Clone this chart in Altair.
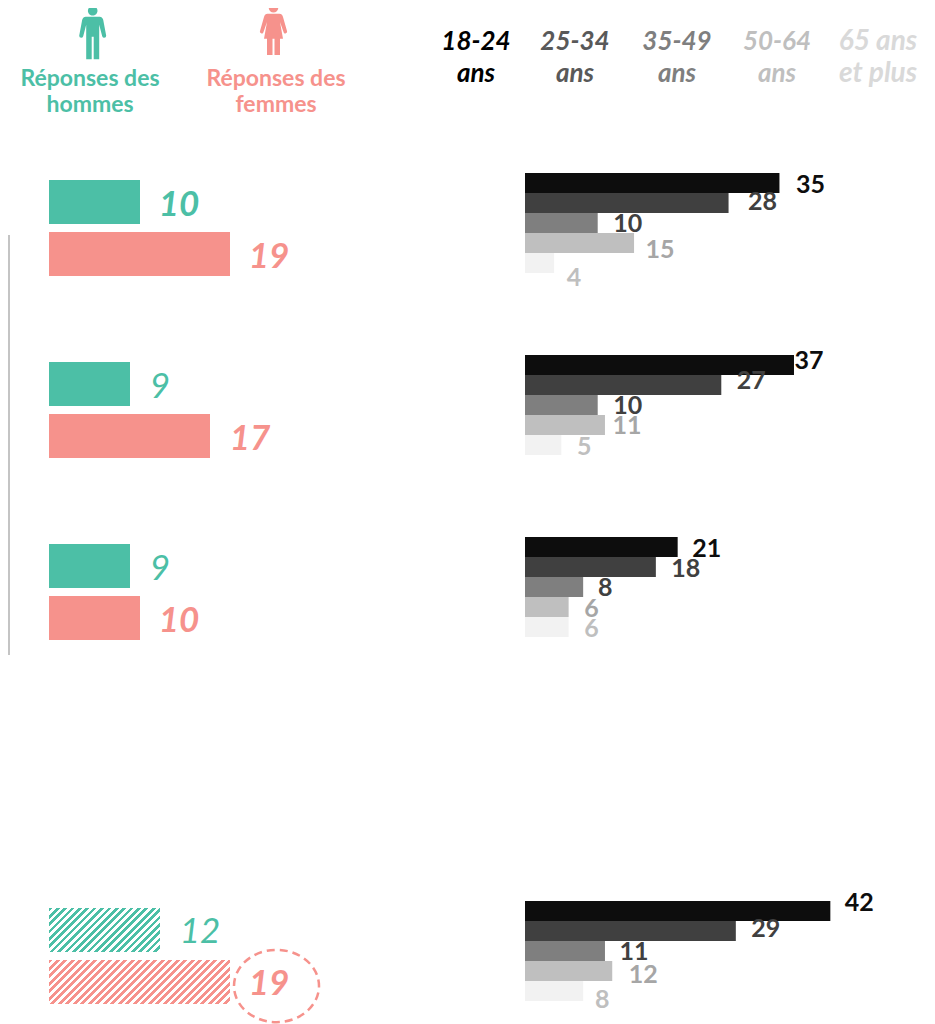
import altair as alt
import pandas as pd

# ---- values ----
slots_left = [0, 1, 2, 4]
men_labels = ["10", "9", "9", "12"]
women_labels = ["19", "17", "10", "19"]
men_len = [9.1, 8.1, 8.1, 11.1]
women_len = [18.1, 16.1, 9.1, 18.1]
men_bold = [True, False, False, False]
women_bold = [True, True, True, True]
age_names = ["18-24 ans", "25-34 ans", "35-49 ans", "50-64 ans", "65 ans et plus"]
age_1824 = [35, 37, 21, 42]
age_2534 = [28, 27, 18, 29]
age_3549 = [10, 10, 8, 11]
age_5064 = [15, 11, 6, 12]
age_65 = [4, 5, 6, 8]

TEAL = "#4cbfa6"
CORAL = "#f6928c"
BAR_GREYS = ["#0d0d0d", "#404040", "#7f7f7f", "#bfbfbf", "#f2f2f2"]
LABEL_GREYS = ["#0d0d0d", "#404040", "#404040", "#a6a6a6", "#bfbfbf"]
HEAD_GREYS = ["#000000", "#595959", "#7f7f7f", "#bfbfbf", "#d9d9d9"]
ox, oy = 8, 8

left_x = alt.Scale(domain=[0, 100], range=[49 - ox, 1049 - ox], nice=False, zero=False, padding=0)
right_x = alt.Scale(domain=[0, 100], range=[525 - ox, 1252 - ox], nice=False, zero=False, padding=0)
row_y = alt.Scale(domain=[0, 4], range=[228 - oy, 956 - oy], nice=False, zero=False, padding=0)
right_y = alt.Scale(domain=[0, 4], range=[223 - oy, 951 - oy], nice=False, zero=False, padding=0)
X = lambda s: alt.X("v:Q", scale=s, axis=None)
Y = lambda s: alt.Y("slot:Q", scale=s, axis=None)

layers = []


def hatch(color, w, h, period=7.5):
    n = int(round((w + h) / period))
    stops = []
    for i in range(n):
        a, b, c = i / n, (i + 0.5) / n, (i + 1) / n
        stops += [
            alt.GradientStop(offset=a, color=color),
            alt.GradientStop(offset=b, color=color),
            alt.GradientStop(offset=b, color="#ffffff"),
            alt.GradientStop(offset=c, color="#ffffff"),
        ]
    r = h / w
    k = (1 + r) / (1 + r * r)
    return alt.LinearGradient(gradient="linear", stops=stops, x1=0, y1=0, x2=k, y2=k * r)


# left bars and numbers
men_dx = [39, 30, 30, 40]
women_dx = [39, 40, 39, 39]
for lens, labels, bolds, dxs, col, off, px in [
    (men_len, men_labels, men_bold, men_dx, TEAL, -26, 111),
    (women_len, women_labels, women_bold, women_dx, CORAL, 26, 181),
]:
    df = pd.DataFrame({"slot": slots_left, "v": lens, "t": labels, "b": bolds})
    layers.append(
        alt.Chart(df[df.slot != 4]).mark_bar(orient="horizontal", size=44, yOffset=off, color=col)
        .encode(x=X(left_x), y=Y(row_y))
    )
    layers.append(
        alt.Chart(df[df.slot == 4]).mark_bar(orient="horizontal", size=44, yOffset=off, color=hatch(col, px, 44))
        .encode(x=X(left_x), y=Y(row_y))
    )
    for j in range(len(df)):
        layers.append(
            alt.Chart(df.iloc[[j]]).mark_text(
                align="center", baseline="middle", font="Lato", fontStyle="italic",
                fontWeight="bold" if bolds[j] else "normal", fontSize=35, color=col,
                dx=dxs[j], dy=off + 3 if slots_left[j] != 4 else off + 2,
            ).encode(x=X(left_x), y=Y(row_y), text="t:N")
        )

# right bars
age_series = [age_1824, age_2534, age_3549, age_5064, age_65]
for i, vals in enumerate(age_series):
    df = pd.DataFrame({"slot": slots_left, "v": vals, "age": age_names[i]})
    layers.append(
        alt.Chart(df).mark_bar(orient="horizontal", size=20, yOffset=(i - 2) * 20)
        .encode(
            x=X(right_x), y=Y(right_y),
            color=alt.Color("age:N", scale=alt.Scale(domain=age_names, range=BAR_GREYS), legend=None),
        )
    )

# hand-placed value labels (nudges from the bar end / row centre)
label_dx = [[31, 34, 30, 26, 20], [15, 30, 30, 22, 23], [29, 30, 22, 23, 23], [29, 30, 29, 31, 19]]
label_dy = [[2, -1, 1, 7, 15], [-4, -4, 1, 1, 2], [2, 2, 1, 2, 2], [-8, -2, 1, 4, 9]]
for g, slot in enumerate(slots_left):
    for i, vals in enumerate(age_series):
        df = pd.DataFrame({"slot": [slot], "v": [vals[g]]})
        layers.append(
            alt.Chart(df).mark_text(
                align="center", baseline="middle", font="Lato", fontWeight="bold", fontSize=25,
                color=LABEL_GREYS[i], dx=label_dx[g][i], dy=label_dy[g][i] + (i - 2) * 20,
            ).encode(x=X(right_x), y=Y(right_y), text="v:Q")
        )


def text_block(lines, cx, cy, color, size, italic, line_h):
    kw = {"fontStyle": "italic"} if italic else {}
    return alt.Chart(pd.DataFrame({"a": [0]})).mark_text(
        text=lines, align="center", baseline="middle", font="Lato", fontWeight="bold",
        fontSize=size, color=color, lineHeight=line_h, **kw
    ).encode(x=alt.value(cx - ox), y=alt.value(cy - oy))


# header
heads = [["18-24", "ans"], ["25-34", "ans"], ["35-49", "ans"], ["50-64", "ans"], ["65 ans", "et plus"]]
head_x = [476, 575, 677, 777, 878]
head_sz = [26, 26, 26, 26, 28]
for h, cx, c, sz in zip(heads, head_x, HEAD_GREYS, head_sz):
    layers.append(text_block(h, cx, 42, c, sz, True, 32))

layers.append(text_block(["Réponses des", "hommes"], 90, 79, TEAL, 23, False, 26))
layers.append(text_block(["Réponses des", "femmes"], 276, 79, CORAL, 23, False, 26))


def unit_path(s, r):
    out = []
    for tok in s.split():
        try:
            out.append(f"{float(tok) / r:.4f}")
        except ValueError:
            out.append(tok)
    return " ".join(out)


def head_path(cy, rad, r):
    a, c, q = rad / r, cy / r, rad / r
    return f"M {-a:.4f} {c:.4f} A {q:.4f} {q:.4f} 0 1 1 {a:.4f} {c:.4f} A {q:.4f} {q:.4f} 0 1 1 {-a:.4f} {c:.4f} Z "


R = 26.5
man = head_path(-21.9, 4.8, R) + unit_path(
    "M -7 -16 L 7 -16 Q 9.5 -16 10.5 -13 L 13.5 3 Q 13.5 5 11.5 5 Q 10 5 9.5 3.5 L 6.5 -8 "
    "L 6.5 26.5 L 1 26.5 L 1 4 L -1 4 L -1 26.5 L -6.5 26.5 L -6.5 -8 L -9.5 3.5 Q -10 5 -11.5 5 "
    "Q -13.5 5 -13.5 3 L -10.5 -13 Q -9.5 -16 -7 -16 Z", R
)
woman = head_path(-21.3, 4.8, R) + unit_path(
    "M -6 -15.3 L 6 -15.3 Q 8.5 -15.3 9.5 -12 L 13.5 2 Q 14 4 12 4.5 Q 10.5 5 10 3 L 6.5 -7 L 9.5 9.7 "
    "L 6.5 9.7 L 6.5 26 L 1 26 L 1 9.7 L -1 9.7 L -1 26 L -6.5 26 L -6.5 9.7 L -9.5 9.7 L -6.5 -7 "
    "L -10 3 Q -10.5 5 -12 4.5 Q -14 4 -13.5 2 L -9.5 -12 Q -8.5 -15.3 -6 -15.3 Z", R
)
for path, cx, cy, col in [(man, 92.7, 32.7, TEAL), (woman, 273.5, 29, CORAL)]:
    layers.append(
        alt.Chart(pd.DataFrame({"a": [0]})).mark_point(
            shape=path, size=4 * R * R, filled=True, fill=col, opacity=1, strokeWidth=0
        ).encode(x=alt.value(cx - ox), y=alt.value(cy - oy))
    )

# dashed ring round the last figure
layers.append(
    alt.Chart(pd.DataFrame({"a": [0]})).mark_point(
        shape="M -1 0 A 1 0.85 0 1 1 1 0 A 1 0.85 0 1 1 -1 0 Z", size=4 * 42.5 * 42.5,
        filled=False, stroke=CORAL, strokeWidth=2.5, strokeDash=[8, 5], opacity=1,
    ).encode(x=alt.value(276.5 - ox), y=alt.value(986 - oy))
)

# faint rule at the left edge
layers.append(
    alt.Chart(pd.DataFrame({"a": [0]})).mark_rule(color="#c4c4c4", strokeWidth=2)
    .encode(x=alt.value(1), y=alt.value(235 - oy), y2=alt.value(655 - oy))
)

chart = (
    alt.layer(*layers)
    .resolve_scale(x="independent", y="independent", color="independent")
    .properties(width=919, height=1016, padding=0, autosize=alt.AutoSizeParams(type="none"))
    .configure_view(stroke=None)
)
chart.save("out.html", embed_options={"renderer": "svg", "actions": False})
